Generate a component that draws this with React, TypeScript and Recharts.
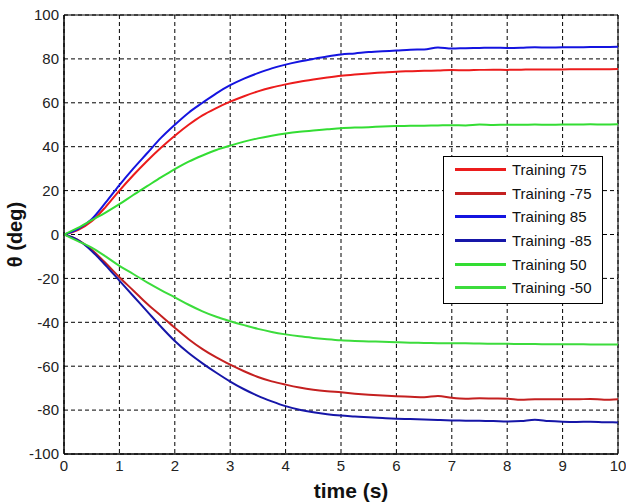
import React from "react";
import {
  LineChart,
  Line,
  XAxis,
  YAxis,
  CartesianGrid,
  Legend,
  ReferenceArea,
} from "recharts";

// time axis, 0.25 s steps
const TIME = [
  0, 0.25, 0.5, 0.75, 1, 1.25, 1.5, 1.75, 2, 2.25, 2.5, 2.75, 3, 3.25, 3.5, 3.75, 4, 4.25, 4.5, 4.75, 5,
  5.25, 5.5, 5.75, 6, 6.25, 6.5, 6.75, 7, 7.25, 7.5, 7.75, 8, 8.25, 8.5, 8.75, 9, 9.25, 9.5, 9.75, 10,
];

const TRAIN_75 = [
  0, 2, 6, 12.5, 20, 27, 33.5, 39.5, 45, 50, 54.3, 57.6, 60.5, 63, 65.2, 67, 68.4, 69.6, 70.6, 71.5, 72.3,
  72.9, 73.4, 73.8, 74.2, 74.4, 74.6, 74.7, 74.9, 74.8, 75, 75.1, 75, 75.1, 75.2, 75.2, 75.2, 75.3, 75.3, 75.3, 75.4,
];
const TRAIN_M75 = [
  0, -2.5, -7, -13, -19.5, -25.5, -31.6, -37, -42.5, -47.7, -52.2, -56, -59.3, -62.3, -64.9, -66.9, -68.4, -69.7, -70.7, -71.4, -71.9,
  -72.5, -73, -73.4, -73.7, -73.9, -74.1, -73.6, -74.4, -74.8, -74.6, -74.7, -74.8, -75.3, -75, -75, -75, -75.1, -74.9, -75.3, -75,
];
const TRAIN_85 = [
  0, 2.5, 7, 14.5, 22.5, 30, 37, 44, 50, 55.5, 60, 64.3, 68, 71, 73.5, 75.7, 77.4, 78.8, 80, 81.1, 82,
  82.5, 83.1, 83.5, 83.8, 84.2, 84.3, 85.2, 84.7, 84.9, 85, 85.1, 85, 85.1, 85.3, 85.2, 85.3, 85.3, 85.4, 85.4, 85.5,
];
const TRAIN_M85 = [
  0, -2.5, -7.5, -14, -21, -28, -35, -42, -48.5, -54, -58.7, -63, -67, -70.5, -73.5, -76, -78.2, -79.8, -81, -81.9, -82.5,
  -82.9, -83.3, -83.6, -83.9, -84.1, -84.3, -84.5, -84.7, -84.8, -84.9, -85, -85.2, -85, -84.4, -85, -85.3, -85.4, -85.3, -85.5, -85.6,
];
const TRAIN_50 = [
  0, 3, 6.5, 10, 13.8, 18, 22, 26, 29.8, 33.2, 36, 38.5, 40.5, 42.3, 43.8, 45, 46, 46.8, 47.4, 47.9, 48.4,
  48.7, 48.9, 49.2, 49.4, 49.5, 49.6, 49.7, 49.8, 49.7, 50.1, 49.9, 50, 50, 50.1, 50, 50.1, 50.1, 50.2, 50.1, 50.2,
];
const TRAIN_M50 = [
  0, -3, -6, -10, -14.3, -18, -21.8, -25.3, -28.6, -32, -35, -37.5, -39.5, -41.3, -43, -44.4, -45.5, -46.4, -47.1, -47.7, -48.2,
  -48.5, -48.7, -48.9, -49.1, -49.3, -49.4, -49.5, -49.6, -49.5, -49.7, -49.8, -49.8, -49.9, -49.9, -50, -50, -50, -50.1, -50.1, -50.1,
];

const X_TICKS = [0, 1, 2, 3, 4, 5, 6, 7, 8, 9, 10];
const Y_TICKS = [-100, -80, -60, -40, -20, 0, 20, 40, 60, 80, 100];

const SERIES = [
  { key: "t75", name: "Training 75", values: TRAIN_75, color: "#ec1c1c" },
  { key: "tm75", name: "Training -75", values: TRAIN_M75, color: "#c42020" },
  { key: "t85", name: "Training 85", values: TRAIN_85, color: "#1414e0" },
  { key: "tm85", name: "Training -85", values: TRAIN_M85, color: "#1616a8" },
  { key: "t50", name: "Training 50", values: TRAIN_50, color: "#33dd33" },
  { key: "tm50", name: "Training -50", values: TRAIN_M50, color: "#3cdc3c" },
];

const data = TIME.map((t, i) => {
  const row: Record<string, number> = { t };
  for (const s of SERIES) row[s.key] = s.values[i];
  return row;
});

const FONT = "'Liberation Sans', Arial, Helvetica, sans-serif";

function LegendBox() {
  return (
    <div
      style={{
        width: 160,
        height: 148,
        boxSizing: "border-box",
        border: "1px solid #000",
        background: "#fff",
        paddingTop: 1,
        fontFamily: FONT,
      }}
    >
      {SERIES.map((s) => (
        <div key={s.key} style={{ display: "flex", alignItems: "center", height: 23.6 }}>
          <div style={{ marginLeft: 11, width: 51, height: 3, background: s.color }} />
          <span style={{ marginLeft: 6, fontSize: 15, color: "#111" }}>{s.name}</span>
        </div>
      ))}
    </div>
  );
}

function YTitle(props: any) {
  const { y, height } = props.viewBox;
  const cx = 15;
  const cy = y + height / 2;
  return (
    <text
      x={cx}
      y={cy}
      transform={`rotate(-90 ${cx} ${cy})`}
      textAnchor="middle"
      dominantBaseline="central"
      fontFamily={FONT}
      fontWeight="bold"
      fontSize={20}
      fill="#111"
    >
      θ (deg)
    </text>
  );
}

function XTitle(props: any) {
  const { x, width } = props.viewBox;
  const cx = x + width / 2 + 10;
  return (
    <text
      x={cx}
      y={490}
      textAnchor="middle"
      dominantBaseline="central"
      fontFamily={FONT}
      fontWeight="bold"
      fontSize={21}
      fill="#111"
    >
      time (s)
    </text>
  );
}

export default function App() {
  const tick = { fill: "#222", fontSize: 15, fontFamily: FONT };
  return (
    <div style={{ position: "absolute", left: 0, top: 0, width: 626, height: 504, background: "#fff" }}>
      <LineChart
        width={626}
        height={504}
        data={data}
        margin={{ top: 15, right: 8, bottom: 0, left: 0 }}
        style={{ fontFamily: FONT }}
      >
        <CartesianGrid stroke="#000" strokeDasharray="4 3" strokeWidth={1} />
        <XAxis
          dataKey="t"
          type="number"
          domain={[0, 10]}
          ticks={X_TICKS}
          height={50}
          tick={tick}
          tickLine={false}
          tickSize={0}
          tickMargin={6}
          axisLine={{ stroke: "#000" }}
          allowDataOverflow
          label={<XTitle />}
        />
        <YAxis
          type="number"
          domain={[-100, 100]}
          ticks={Y_TICKS}
          width={64}
          tick={tick}
          tickLine={false}
          tickSize={0}
          tickMargin={5}
          axisLine={{ stroke: "#000" }}
          label={<YTitle />}
        />
        <ReferenceArea
          x1={0}
          x2={10}
          y1={-100}
          y2={100}
          fill="none"
          stroke="#000"
          strokeWidth={1}
          ifOverflow="visible"
        />
        {SERIES.map((s) => (
          <Line
            key={s.key}
            dataKey={s.key}
            name={s.name}
            type="monotone"
            stroke={s.color}
            strokeWidth={2}
            dot={false}
            isAnimationActive={false}
          />
        ))}
        <Legend
          layout="vertical"
          align="center"
          verticalAlign="middle"
          content={<LegendBox />}
          wrapperStyle={{ position: "absolute", left: 443, top: 156, width: 160, height: 148 }}
        />
      </LineChart>
    </div>
  );
}
